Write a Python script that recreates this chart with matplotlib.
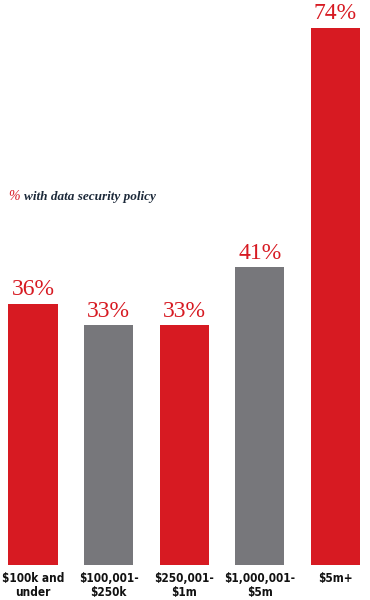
import matplotlib
matplotlib.use("Agg")
import matplotlib.pyplot as plt
from matplotlib import font_manager

# --- datos ---
categorias = ["$100k and\nunder", "$100,001-\n$250k", "$250,001-\n$1m", "$1,000,001-\n$5m", "$5m+"]
porcentajes = [36, 33, 33, 41, 74]
colores = ["#d71a22", "#77777b", "#d71a22", "#77777b", "#d71a22"]

ROJO = "#d71a22"

# fuente angosta para las categorias si existe
nombres = {f.name for f in font_manager.fontManager.ttflist}
fuente_cat = "Liberation Sans Narrow" if "Liberation Sans Narrow" in nombres else "DejaVu Sans"

fig = plt.figure(figsize=(3.7, 6), dpi=100)
ax = fig.add_axes([0, 35 / 600, 1, 565 / 600])

x = list(range(len(categorias)))
ax.bar(x, porcentajes, width=0.65, color=colores)
ax.set_xlim(-0.437, 4.458)
ax.set_ylim(0, 77.8)

# etiquetas de valor
for xi, v in zip(x, porcentajes):
    ax.text(xi, v + 0.5, f"{v}%", ha="center", va="bottom", color=ROJO,
            fontsize=17, family="Liberation Serif")

# categorias debajo de cada barra
for xi, c in zip(x, categorias):
    ax.text(xi, -1.0, c, ha="center", va="top", fontsize=8.5, fontweight="bold",
            family=fuente_cat, fontstretch="condensed", color="#111111", linespacing=1.1)

ax.axis("off")

# leyenda en texto
fig.text(8 / 370, 1 - 197 / 600, "%", color=ROJO, fontsize=10, style="italic",
         family="Liberation Serif", va="center")
fig.text(24 / 370, 1 - 197 / 600, "with data security policy", color="#1d2a3a",
         fontsize=9.5, style="italic", fontweight="bold", family="Liberation Serif", va="center")

fig.savefig("out.png", dpi=100)
